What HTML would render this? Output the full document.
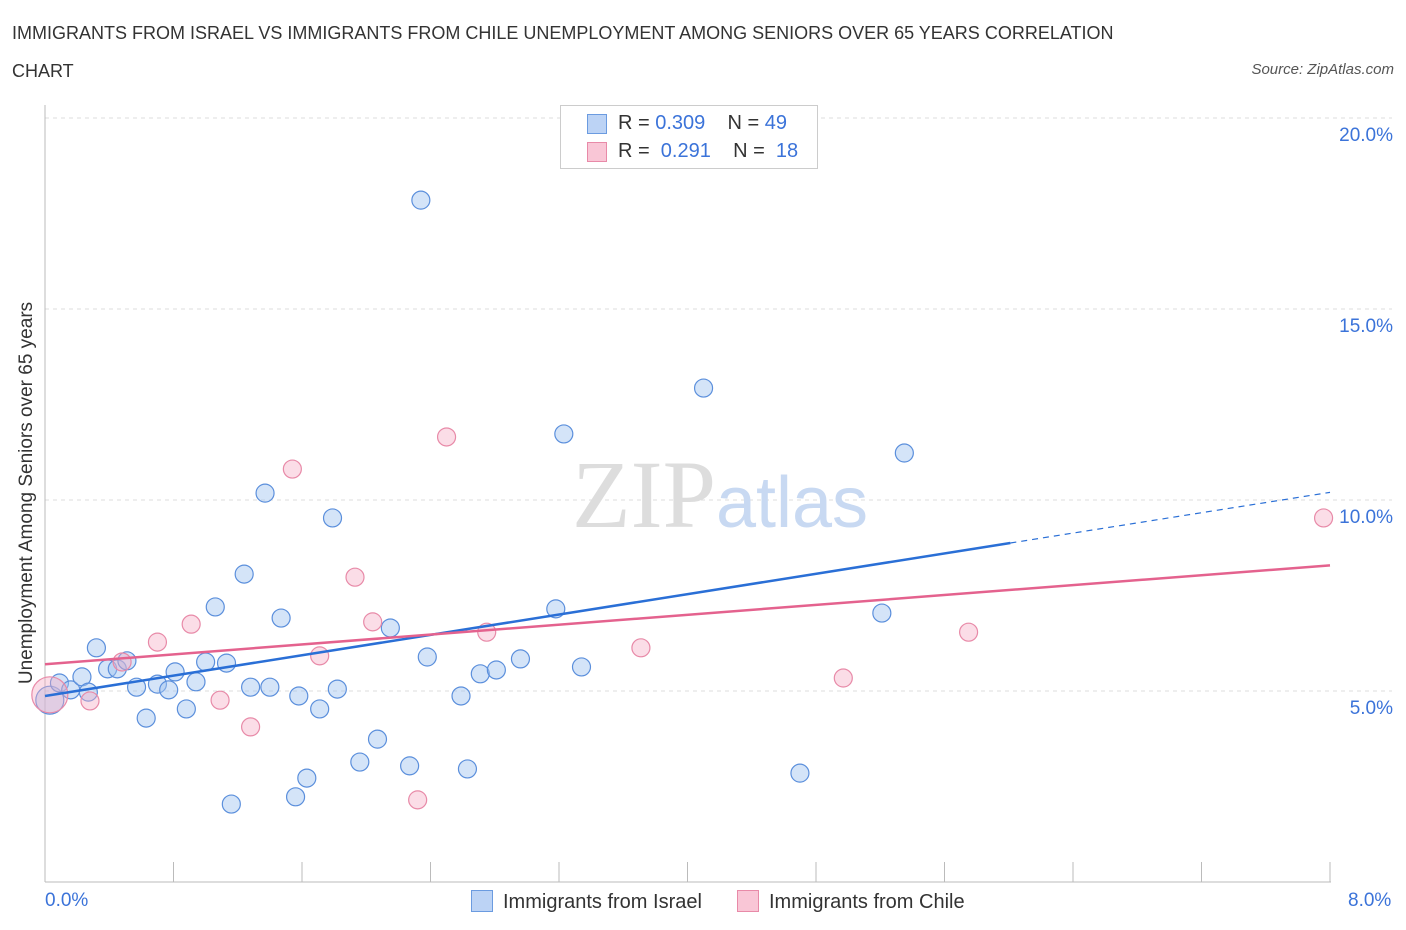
<!DOCTYPE html>
<html><head><meta charset="utf-8"><style>
body{margin:0;background:#fff;font-family:"Liberation Sans",sans-serif;}
#wrap{position:relative;width:1406px;height:930px;overflow:hidden}
.t{position:absolute;color:#333;font-size:17px}
</style></head><body><div id="wrap">
<div class="t" style="left:12px;top:14px;line-height:38px;width:1150px;font-size:18px">IMMIGRANTS FROM ISRAEL VS IMMIGRANTS FROM CHILE UNEMPLOYMENT AMONG SENIORS OVER 65 YEARS CORRELATION CHART</div>
<div class="t" style="right:12px;top:61px;font-size:15px;font-style:italic;color:#555">Source: ZipAtlas.com</div>
<svg id="c" width="1406" height="930" style="position:absolute;left:0;top:0"></svg>
</div>
<script>
const israelX=[0.03,0.09,0.16,0.23,0.27,0.32,0.39,0.45,0.51,0.57,0.63,0.70,0.77,0.81,0.88,0.94,1.00,1.06,1.13,1.16,1.24,1.28,1.37,1.40,1.47,1.56,1.58,1.63,1.71,1.79,1.82,1.96,2.07,2.15,2.27,2.34,2.38,2.59,2.63,2.71,2.81,2.96,3.18,3.23,3.34,4.10,4.70,5.21,5.35];
const israelY=[4.76,5.21,5.03,5.37,4.97,6.13,5.58,5.58,5.79,5.10,4.29,5.18,5.03,5.50,4.53,5.24,5.76,7.20,5.73,2.04,8.06,5.10,10.18,5.10,6.91,2.23,4.87,2.72,4.53,9.53,5.05,3.14,3.74,6.65,3.04,17.85,5.89,4.87,2.96,5.45,5.55,5.84,7.15,11.73,5.63,12.93,2.85,7.04,11.23];
const chileX=[0.03,0.28,0.48,0.70,0.91,1.09,1.28,1.54,1.71,1.93,2.04,2.32,2.50,2.75,3.71,4.97,5.75,7.96];
const chileY=[4.90,4.74,5.76,6.28,6.75,4.76,4.06,10.81,5.92,7.98,6.81,2.15,11.65,6.54,6.13,5.34,6.54,9.53];
const yTicks=[5,10,15,20];
const yTickLabels=["5.0%","10.0%","15.0%","20.0%"];
const xTicks=[0,0.8,1.6,2.4,3.2,4.0,4.8,5.6,6.4,7.2,8.0];
const israelTrend=[4.87,10.2];
const chileTrend=[5.70,8.29];
const X=v=>45+v*160.625, Y=v=>882-v*38.2;
const s=document.getElementById('c'),NS='http://www.w3.org/2000/svg';
function mk(t,a,p){const e=document.createElementNS(NS,t);for(const k in a)e.setAttribute(k,a[k]);(p||s).appendChild(e);return e;}
yTicks.forEach((v,i)=>{
const g=mk('line',{x1:45,x2:1392,y1:Y(v),y2:Y(v),stroke:'#ddd','stroke-dasharray':'4,4'});


const t=mk('text',{x:1393,y:Y(v)+23,'text-anchor':'end','font-size':19,fill:'#3b73d9','font-family':'Liberation Sans'});t.textContent=yTickLabels[i];


});
mk('line',{x1:45,x2:45,y1:105,y2:882,stroke:'#bbb'});
mk('line',{x1:45,x2:1331,y1:882,y2:882,stroke:'#bbb'});
xTicks.forEach(v=>{const l=mk('line',{x1:X(v),x2:X(v),y1:862,y2:882,stroke:'#bbb'});

});
const wm=mk('text',{x:720,y:527,'text-anchor':'middle','font-size':96,fill:'#ddd','font-family':'Liberation Serif'});wm.innerHTML='ZIP<tspan fill="#c8d9f2" font-family="Liberation Sans" font-size="72">atlas</tspan>';


function pts(xs,ys,f,st,name){xs.forEach((x,i)=>{const r=i==0?(name=='israel-point'?14:18):9;
const c=mk('circle',{cx:X(x),cy:Y(ys[i]),r:r,fill:f,stroke:st,'stroke-width':1.2});

});}
pts(israelX,israelY,'rgba(160,195,240,0.45)','#5b8fdc','israel-point');
pts(chileX,chileY,'rgba(245,170,195,0.4)','#e88aa8','chile-point');
const b1=mk('line',{x1:X(0),y1:Y(israelTrend[0]),x2:X(6.01),y2:Y(israelTrend[0]+(israelTrend[1]-israelTrend[0])*6.01/8),stroke:'#2a6fd6','stroke-width':2.5});


const b2=mk('line',{x1:X(6.01),y1:Y(israelTrend[0]+(israelTrend[1]-israelTrend[0])*6.01/8),x2:X(8),y2:Y(israelTrend[1]),stroke:'#2a6fd6','stroke-width':1.2,'stroke-dasharray':'6,5'});


const p1=mk('line',{x1:X(0),y1:Y(chileTrend[0]),x2:X(8),y2:Y(chileTrend[1]),stroke:'#e4628e','stroke-width':2.5});


</script>
<div style="position:absolute;left:560px;top:105px;width:256px;height:62px;border:1px solid #ccc;background:#fff;font-size:20px;color:#333">
<div style="position:absolute;left:26px;top:8px;width:18px;height:18px;background:#bcd3f5;border:1px solid #6b9be0"></div>
<div style="position:absolute;left:57px;top:6px">R = <span style="color:#3b73d9">0.309</span>&nbsp;&nbsp;&nbsp; N = <span style="color:#3b73d9">49</span></div>
<div style="position:absolute;left:26px;top:36px;width:18px;height:18px;background:#f9c6d6;border:1px solid #e88aa8"></div>
<div style="position:absolute;left:57px;top:34px">R = &nbsp;<span style="color:#3b73d9">0.291</span>&nbsp;&nbsp;&nbsp; N = &nbsp;<span style="color:#3b73d9">18</span></div>
</div>
<div style="position:absolute;left:45px;top:890px;font-size:19px;color:#3b73d9">0.0%</div>
<div style="position:absolute;left:1348px;top:890px;font-size:19px;color:#3b73d9">8.0%</div>
<div style="position:absolute;left:27px;top:493px;transform:translate(-50%,-50%) rotate(-90deg);white-space:nowrap;font-size:19px;color:#333">Unemployment Among Seniors over 65 years</div>
<div style="position:absolute;left:471px;top:890px;font-size:20px;color:#333"><span style="display:inline-block;width:20px;height:20px;background:#bcd3f5;border:1px solid #6b9be0;vertical-align:-4px;margin-right:10px"></span>Immigrants from Israel</div>
<div style="position:absolute;left:737px;top:890px;font-size:20px;color:#333"><span style="display:inline-block;width:20px;height:20px;background:#f9c6d6;border:1px solid #e88aa8;vertical-align:-4px;margin-right:10px"></span>Immigrants from Chile</div>
</body></html>
